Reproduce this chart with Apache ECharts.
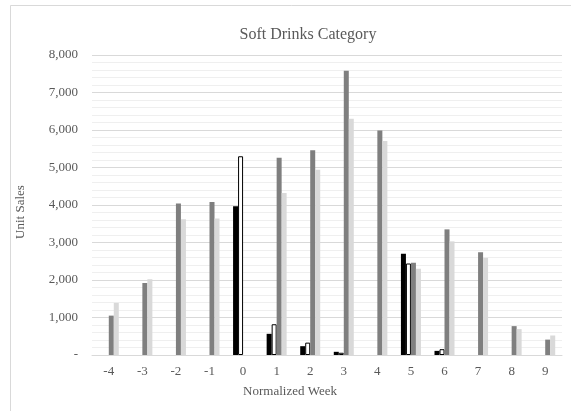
<!DOCTYPE html>
<html>
<head>
<meta charset="utf-8">
<script src="https://cdn.jsdelivr.net/npm/echarts@6/dist/echarts.min.js"></script>
<style>
  html, body { margin: 0; padding: 0; background: #fff; }
  #chart { width: 571px; height: 411px; }
</style>
</head>
<body>
<div id="chart"></div>
<script>
// Normalized week categories
const weeks = ['-4', '-3', '-2', '-1', '0', '1', '2', '3', '4', '5', '6', '7', '8', '9'];

// Unit sales per week for the four series
const blackSeries = [null, null, null, null, 3970, 565, 235, 85, null, 2700, 110, null, null, null];
const whiteSeries = [null, null, null, null, 5300, 820, 330, 60, null, 2440, 155, null, null, null];
const darkGraySeries = [1050, 1920, 4040, 4080, null, 5260, 5460, 7580, 5990, 2460, 3350, 2740, 770, 410];
const lightGraySeries = [1390, 2020, 3620, 3640, null, 4320, 4940, 6300, 5710, 2300, 3030, 2590, 690, 520];

const font = 'Liberation Serif';
const textColor = '#595959';

const chart = echarts.init(document.getElementById('chart'), null, { renderer: 'canvas' });

function barSeries(data, style) {
  return {
    type: 'bar',
    data: data,
    barWidth: 5,
    barGap: '0%',
    itemStyle: style,
    emphasis: { disabled: true },
    animation: false
  };
}

chart.setOption({
  animation: false,
  backgroundColor: '#fff',
  graphic: [
    {
      // chart area frame
      type: 'rect',
      shape: { x: 10.5, y: 5.5, width: 600, height: 430 },
      style: { fill: 'none', stroke: '#d9d9d9', lineWidth: 1 },
      silent: true
    },
    {
      // x axis title
      type: 'text',
      x: 290, y: 392,
      style: {
        text: 'Normalized Week', fill: textColor,
        font: '13px "Liberation Serif"', align: 'center', verticalAlign: 'middle'
      },
      silent: true
    },
    {
      // y axis title
      type: 'text',
      x: 21, y: 212,
      rotation: Math.PI / 2,
      style: {
        text: 'Unit Sales', fill: textColor,
        font: '13px "Liberation Serif"', align: 'center', verticalAlign: 'middle'
      },
      silent: true
    }
  ],
  title: {
    text: 'Soft Drinks Category',
    left: 303,
    top: 22,
    textAlign: 'center',
    textStyle: { fontFamily: font, fontSize: 16, fontWeight: 'normal', color: textColor }
  },
  grid: { left: 92, right: 9, top: 55, bottom: 56 },
  xAxis: {
    type: 'category',
    data: weeks,
    axisLine: { lineStyle: { color: '#d9d9d9' } },
    axisTick: { show: false },
    axisLabel: { fontFamily: font, fontSize: 13, color: textColor, margin: 10 }
  },
  yAxis: {
    type: 'value',
    min: 0,
    max: 8000,
    interval: 1000,
    axisLine: { show: false },
    axisTick: { show: false },
    axisLabel: {
      fontFamily: font, fontSize: 13, color: textColor, margin: 14,
      formatter: v => v === 0 ? '-' : v.toLocaleString('en-US')
    },
    splitLine: { lineStyle: { color: '#d9d9d9', width: 1 } },
    minorTick: { show: false, splitNumber: 5 },
    minorSplitLine: { show: true, lineStyle: { color: '#efefef', width: 1 } }
  },
  series: [
    barSeries(blackSeries, { color: '#000000' }),
    barSeries(whiteSeries, { color: '#ffffff', borderColor: '#000000', borderWidth: 1 }),
    barSeries(darkGraySeries, { color: '#7f7f7f' }),
    barSeries(lightGraySeries, { color: '#d9d9d9' })
  ]
});
</script>
</body>
</html>
